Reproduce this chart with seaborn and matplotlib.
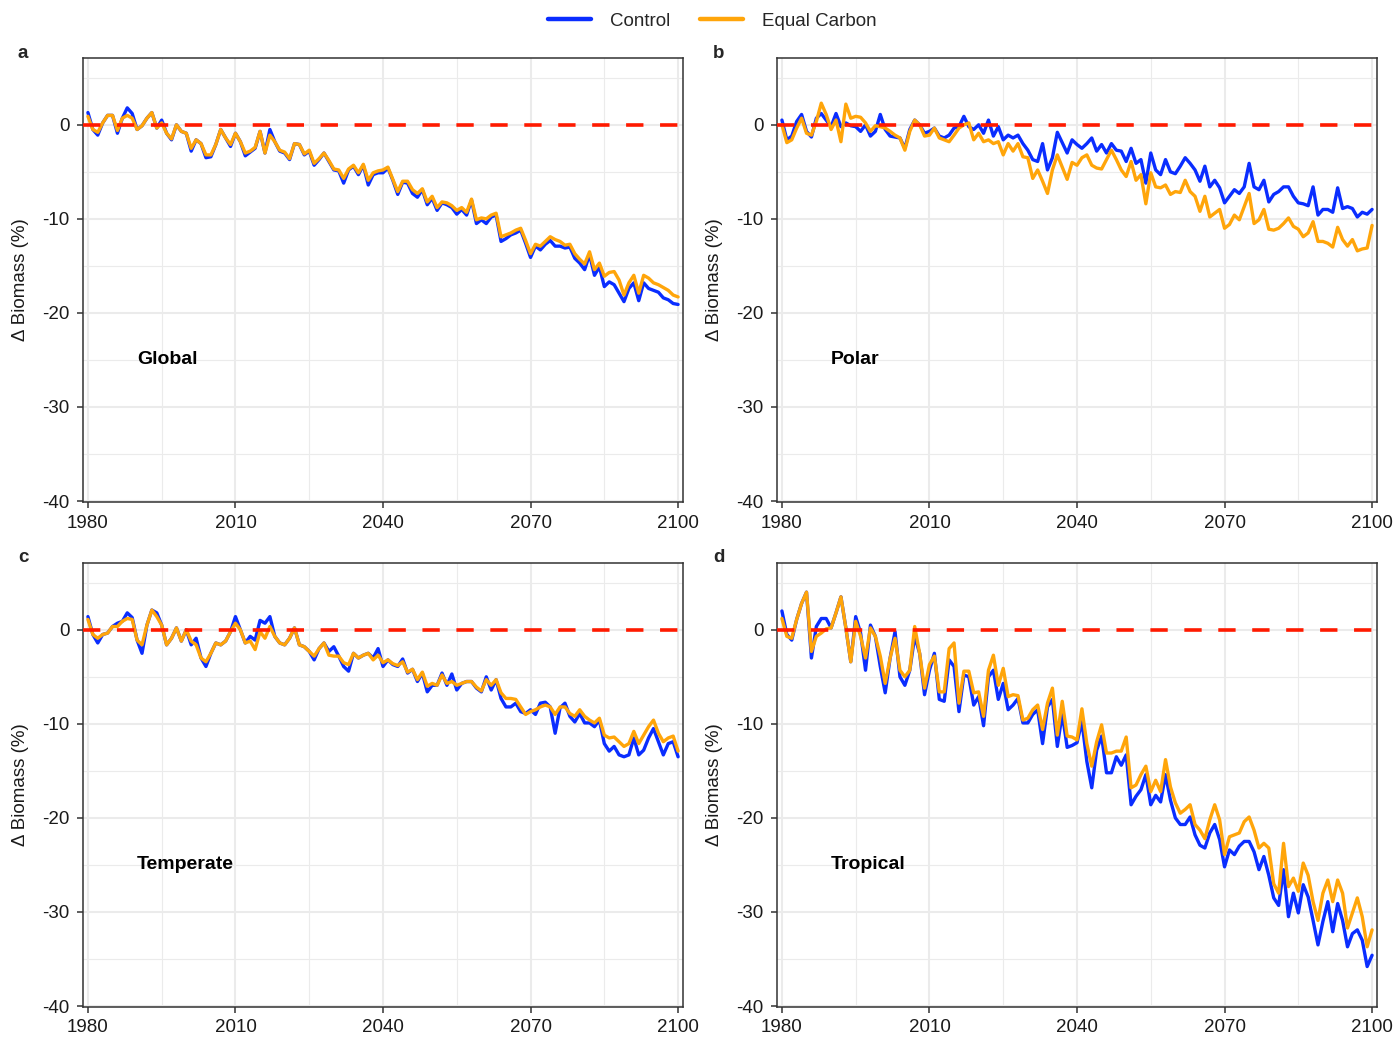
import numpy as np
import pandas as pd
import matplotlib
matplotlib.use("Agg")
import matplotlib.pyplot as plt
from matplotlib.lines import Line2D
import seaborn as sns

years = list(range(1980, 2101))

global_control = [
    1.3, -0.5, -1.1, 0.2, 1.0, 1.0, -0.9, 0.7, 1.8, 1.2,
    -0.5, -0.1, 0.7, 1.3, -0.35, 0.5, -0.9, -1.6, 0.0, -0.7,
    -0.9, -2.8, -1.6, -2.0, -3.5, -3.4, -2.1, -0.5, -1.4, -2.3,
    -0.9, -1.8, -3.3, -2.9, -2.5, -0.7, -3.0, -0.5, -1.8, -2.8,
    -3.0, -3.7, -2.0, -2.1, -3.2, -2.8, -4.3, -3.7, -3.0, -3.9,
    -4.8, -4.9, -6.2, -4.8, -4.4, -5.3, -4.3, -6.4, -5.3, -5.1,
    -5.1, -4.6, -5.9, -7.4, -6.1, -6.2, -7.3, -7.7, -6.9, -8.5,
    -7.8, -9.1, -8.3, -8.5, -8.8, -9.5, -9.0, -9.6, -8.0, -10.5,
    -10.1, -10.5, -9.8, -9.6, -12.4, -12.1, -11.7, -11.5, -11.2, -12.6,
    -14.1, -12.9, -13.3, -12.7, -12.3, -12.9, -12.9, -13.1, -13.0, -14.2,
    -14.7, -15.4, -13.8, -16.0, -15.1, -17.2, -16.7, -17.0, -17.9, -18.8,
    -17.4, -16.8, -18.7, -16.8, -17.4, -17.6, -17.8, -18.4, -18.6, -19.0, -19.1]
global_equal = [
    0.9, -0.5, -0.8, 0.2, 1.0, 1.0, -0.6, 0.7, 1.0, 0.7,
    -0.5, -0.1, 0.7, 1.3, -0.35, 0.2, -0.9, -1.5, 0.0, -0.7,
    -0.9, -2.5, -1.6, -2.0, -3.2, -3.2, -2.1, -0.5, -1.4, -2.1,
    -0.9, -1.8, -3.0, -2.8, -2.4, -0.7, -3.0, -1.1, -1.8, -2.7,
    -2.9, -3.6, -2.0, -2.1, -3.1, -2.7, -4.1, -3.6, -3.0, -3.8,
    -4.7, -4.8, -5.7, -4.7, -4.3, -5.1, -4.2, -5.9, -5.1, -4.9,
    -4.8, -4.5, -5.8, -7.1, -6.0, -6.0, -6.9, -7.3, -6.8, -8.2,
    -7.6, -8.8, -8.2, -8.3, -8.6, -9.1, -8.8, -9.3, -7.9, -10.1,
    -9.9, -10.0, -9.6, -9.4, -11.9, -11.7, -11.5, -11.2, -11.0, -12.3,
    -13.7, -12.7, -12.9, -12.4, -11.9, -12.2, -12.4, -12.8, -12.7, -13.7,
    -14.3, -14.8, -13.5, -15.4, -14.7, -16.1, -15.7, -15.6, -16.5, -18.1,
    -16.8, -16.0, -17.9, -16.0, -16.3, -16.8, -17.0, -17.3, -17.6, -18.1, -18.3]

polar_control = [
    0.5, -1.6, -1.2, 0.35, 1.1, -0.7, -1.3, 0.7, 1.2, 0.5,
    -0.2, 1.2, -0.2, 0.2, -0.1, -0.2, -0.7, 0.0, -1.2, -0.7,
    1.1, -0.5, -1.2, -1.3, -1.4, -2.5, -0.5, 0.5, 0.0, -0.9,
    -0.7, -0.35, -1.2, -1.4, -1.1, -0.35, -0.2, 0.9, -0.2, -0.5,
    0.0, -0.9, 0.5, -1.2, -0.2, -1.6, -1.1, -1.4, -1.1, -2.0,
    -2.7, -3.7, -3.9, -2.0, -4.8, -3.5, -0.8, -1.9, -3.0, -1.6,
    -2.1, -2.5, -2.0, -1.4, -2.8, -2.1, -3.0, -2.0, -2.7, -2.8,
    -3.9, -2.5, -4.1, -3.7, -6.2, -3.0, -4.8, -5.3, -3.7, -5.0,
    -5.2, -4.4, -3.5, -4.1, -4.8, -6.0, -4.4, -6.6, -5.9, -6.7,
    -8.3, -7.6, -6.9, -7.3, -6.6, -4.1, -6.6, -6.9, -5.9, -8.2,
    -7.4, -7.1, -6.6, -6.6, -7.6, -8.3, -8.4, -8.6, -6.6, -9.6,
    -9.0, -9.0, -9.3, -6.7, -8.9, -8.7, -8.9, -9.8, -9.3, -9.5, -9.0]
polar_equal = [
    0.0, -1.9, -1.6, -0.35, 0.7, -0.9, -1.1, 0.35, 2.3, 1.1,
    -0.5, 0.5, -1.8, 2.2, 0.7, 0.9, 0.8, 0.2, -0.7, -0.1,
    -0.2, -0.35, -0.7, -1.1, -1.4, -2.7, -0.7, 0.5, 0.0, -1.2,
    -1.1, -0.35, -1.4, -1.6, -1.8, -1.1, -0.35, 0.0, 0.2, -1.6,
    -0.9, -1.8, -1.6, -2.0, -1.8, -3.2, -2.0, -2.8, -2.0, -3.4,
    -3.5, -5.7, -4.8, -6.0, -7.3, -4.8, -3.2, -4.5, -5.8, -4.0,
    -4.3, -3.5, -3.2, -4.3, -4.6, -4.7, -3.7, -2.7, -3.7, -4.8,
    -5.5, -3.9, -5.9, -5.3, -8.4, -5.1, -6.6, -6.7, -6.4, -7.4,
    -7.1, -7.2, -5.9, -7.1, -7.6, -9.2, -7.6, -9.8, -9.4, -9.0,
    -11.0, -10.6, -9.6, -10.1, -8.7, -7.3, -10.5, -10.1, -9.0, -11.1,
    -11.2, -11.0, -10.5, -9.9, -10.8, -11.1, -11.9, -11.5, -10.3, -12.4,
    -12.4, -12.6, -13.0, -10.9, -12.2, -12.9, -12.2, -13.4, -13.2, -13.1, -10.7]

temperate_control = [
    1.4, -0.5, -1.4, -0.5, -0.35, 0.35, 0.7, 0.9, 1.8, 1.3,
    -1.1, -2.5, 0.5, 2.1, 1.8, 0.5, -1.6, -0.9, 0.2, -1.2,
    0.0, -1.6, -0.9, -3.0, -3.9, -2.5, -1.4, -1.6, -1.2, -0.2,
    1.4, 0.0, -1.4, -0.7, -1.1, 1.0, 0.7, 1.4, -0.7, -1.4,
    -1.6, -0.9, 0.2, -1.6, -1.8, -2.3, -3.2, -2.0, -1.4, -2.3,
    -1.8, -2.8, -3.9, -4.4, -2.5, -3.0, -2.7, -2.5, -3.0, -2.0,
    -3.9, -3.2, -3.7, -3.9, -3.1, -4.6, -4.2, -5.5, -4.6, -6.6,
    -5.9, -5.9, -4.6, -5.9, -4.7, -6.4, -5.7, -5.5, -5.5, -6.2,
    -6.6, -5.0, -6.4, -5.3, -7.3, -8.2, -8.2, -7.8, -8.7, -8.9,
    -8.5, -9.0, -7.8, -7.7, -8.2, -11.0, -8.3, -7.8, -9.2, -9.8,
    -8.9, -9.9, -9.9, -10.3, -9.6, -12.1, -12.9, -12.4, -13.3, -13.5,
    -13.3, -11.5, -13.3, -12.8, -11.5, -10.5, -11.9, -13.3, -12.1, -11.9, -13.5]
temperate_equal = [
    1.1, -0.5, -0.9, -0.5, -0.35, 0.35, 0.35, 0.9, 1.2, 1.1,
    -1.1, -1.6, 0.5, 2.1, 1.4, 0.5, -1.6, -0.9, 0.2, -1.2,
    0.0, -1.2, -1.6, -3.0, -3.4, -2.5, -1.4, -1.6, -1.2, -0.2,
    0.7, 0.0, -1.4, -1.2, -2.1, -0.2, -0.9, 0.35, -0.7, -1.4,
    -1.6, -0.9, 0.2, -1.6, -1.8, -2.3, -2.8, -2.0, -1.4, -2.7,
    -2.8, -2.8, -3.5, -3.7, -2.5, -3.0, -2.7, -2.5, -3.2, -2.7,
    -3.5, -3.2, -3.6, -3.8, -3.4, -4.5, -4.2, -5.3, -4.5, -6.0,
    -5.7, -5.9, -4.8, -5.7, -5.5, -5.9, -5.7, -5.5, -5.5, -6.1,
    -6.5, -5.3, -5.9, -5.3, -6.7, -7.3, -7.3, -7.4, -8.2, -9.0,
    -8.7, -8.5, -8.2, -8.0, -8.2, -9.0, -8.2, -8.2, -8.9, -9.2,
    -8.5, -9.2, -9.6, -9.9, -9.4, -11.2, -11.5, -11.4, -11.9, -12.4,
    -12.1, -10.8, -12.1, -11.2, -10.3, -9.6, -11.0, -11.9, -11.5, -11.3, -12.9]

tropical_control = [
    2.0, -0.5, -1.1, 1.1, 2.8, 4.0, -3.0, 0.35, 1.2, 1.2,
    0.2, 1.8, 3.5, 0.2, -3.4, 1.4, -0.35, -4.3, 0.5, -0.7,
    -3.9, -6.7, -3.0, -0.2, -5.0, -5.9, -4.3, -0.7, -2.5, -6.9,
    -4.3, -2.5, -7.4, -7.6, -3.2, -3.9, -8.7, -4.8, -5.0, -8.0,
    -7.1, -10.2, -5.0, -4.3, -7.4, -5.7, -8.5, -8.0, -7.3, -9.9,
    -9.9, -9.0, -8.5, -12.1, -8.2, -7.4, -12.4, -8.9, -12.5, -12.3,
    -12.0, -9.75, -14.0, -16.8, -12.8, -11.3, -15.2, -15.2, -13.5, -14.4,
    -13.3, -18.6, -17.7, -17.0, -15.4, -18.6, -17.6, -18.3, -15.4, -18.1,
    -20.0, -20.7, -20.7, -19.9, -21.8, -22.9, -23.2, -21.6, -20.7, -22.3,
    -25.2, -23.4, -23.9, -23.0, -22.5, -22.5, -23.6, -25.5, -24.1, -26.1,
    -28.5, -29.3, -25.5, -30.5, -28.0, -30.1, -27.1, -28.4, -30.9, -33.5,
    -31.0, -28.9, -32.1, -29.1, -30.9, -33.7, -32.3, -31.9, -33.0, -35.8, -34.6]
tropical_equal = [
    1.2, -0.7, -0.9, 1.1, 2.8, 4.0, -2.3, -0.7, -0.35, 0.1,
    0.2, 1.8, 3.5, 0.2, -3.4, 0.9, -0.7, -3.0, 0.2, -0.7,
    -2.8, -5.7, -3.0, -0.9, -4.3, -5.0, -4.3, 0.35, -2.5, -6.2,
    -3.7, -2.8, -6.6, -6.6, -2.0, -1.4, -7.8, -4.4, -4.4, -6.7,
    -6.6, -9.2, -4.3, -2.7, -5.9, -4.1, -7.1, -6.9, -7.0, -9.6,
    -9.4, -8.5, -8.0, -10.6, -7.8, -6.2, -11.2, -7.6, -11.3, -11.4,
    -11.7, -8.4, -12.1, -14.5, -11.9, -10.1, -13.1, -13.1, -12.9, -12.9,
    -11.4, -16.8, -16.5, -15.4, -14.5, -17.2, -16.0, -17.2, -13.8, -16.7,
    -18.4, -19.5, -19.1, -18.6, -20.7, -21.3, -22.2, -20.2, -18.6, -20.2,
    -23.9, -22.0, -21.8, -21.6, -20.4, -19.9, -21.3, -23.2, -22.7, -23.2,
    -27.0, -28.0, -22.7, -27.3, -26.4, -27.8, -24.8, -26.1, -28.9, -30.9,
    -28.0, -26.6, -28.9, -26.6, -28.0, -31.7, -30.1, -28.5, -30.5, -33.7, -31.9]

panel_letters = ["a", "b", "c", "d"]
region_names = ["Global", "Polar", "Temperate", "Tropical"]
scenario_names = ["Control", "Equal Carbon"]
x_ticks = [1980, 2010, 2040, 2070, 2100]
y_ticks = [0, -10, -20, -30, -40]

series = {
    "Global": (global_control, global_equal),
    "Polar": (polar_control, polar_equal),
    "Temperate": (temperate_control, temperate_equal),
    "Tropical": (tropical_control, tropical_equal),
}

sns.set_style("white")
plt.rcParams["font.family"] = ["Liberation Sans", "DejaVu Sans"]
plt.rcParams["axes.unicode_minus"] = False

palette = {"Control": "#0A2DFF", "Equal Carbon": "#FFA50A"}
W, H = 1395, 1039
fig = plt.figure(figsize=(W / 100, H / 100), dpi=100)

boxes = [(83, 58), (777, 58), (83, 563), (777, 563)]
aw, ah = 600, 444
letter_pos = [(23, 53), (719, 53), (23, 558), (719, 558)]

for i, name in enumerate(region_names):
    lx, ty = boxes[i]
    ax = fig.add_axes([lx / W, 1 - (ty + ah) / H, aw / W, ah / H])
    c, e = series[name]
    n = min(len(years), len(c), len(e))
    df = pd.DataFrame({
        "year": years[:n] * 2,
        "value": list(c[:n]) + list(e[:n]),
        "scenario": ["Control"] * n + ["Equal Carbon"] * n,
    })
    sns.lineplot(data=df, x="year", y="value", hue="scenario", palette=palette,
                 hue_order=scenario_names, linewidth=2.4, legend=False, ax=ax,
                 zorder=3)
    ax.axhline(0, color="#FF1A00", linewidth=2.6, linestyle=(0, (4.8, 4.6)), zorder=4)
    ax.set_xlim(1979.0, 2101.0)
    ax.set_ylim(-40.1, 7.1)
    ax.set_xticks(x_ticks)
    ax.set_yticks(y_ticks)
    ax.set_xticks([1995, 2025, 2055, 2085], minor=True)
    ax.set_yticks([5, -5, -15, -25, -35], minor=True)
    ax.grid(True, which="major", color="#EBEBEB", linewidth=1.5, zorder=0)
    ax.grid(True, which="minor", color="#EBEBEB", linewidth=0.8, zorder=0)
    ax.set_axisbelow(True)
    ax.tick_params(axis="both", which="major", length=4, width=1.1, color="#333333",
                   labelsize=13.5, labelcolor="#1A1A1A", direction="out",
                   bottom=True, left=True)
    ax.tick_params(axis="x", which="major", pad=5)
    ax.tick_params(axis="y", which="major", pad=5.5)
    ax.tick_params(axis="both", which="minor", length=0)
    for s in ax.spines.values():
        s.set_color("#333333")
        s.set_linewidth(1.1)
    ax.set_xlabel("")
    ax.set_ylabel("")
    ax.text(1990, -25, name, fontsize=14, fontweight="bold", ha="left", va="center",
            color="black")
    fig.text(letter_pos[i][0] / W, 1 - letter_pos[i][1] / H, panel_letters[i],
             fontsize=13.5, fontweight="bold", ha="center", va="center")
    fig.text((lx - 62) / W, 1 - (ty + ah / 2) / H, "Δ Biomass (%)", rotation=90,
             fontsize=13.5, ha="center", va="center", color="#1A1A1A")

handles = [Line2D([0], [0], color=palette[s], linewidth=3.2) for s in scenario_names]
fig.legend(handles, scenario_names, loc="center", bbox_to_anchor=(712 / W, 1 - 21 / H),
           ncol=2, frameon=False, fontsize=13.5, handlelength=2.3, handletextpad=1.0,
           columnspacing=1.6)

fig.savefig("out.png", dpi=100)
